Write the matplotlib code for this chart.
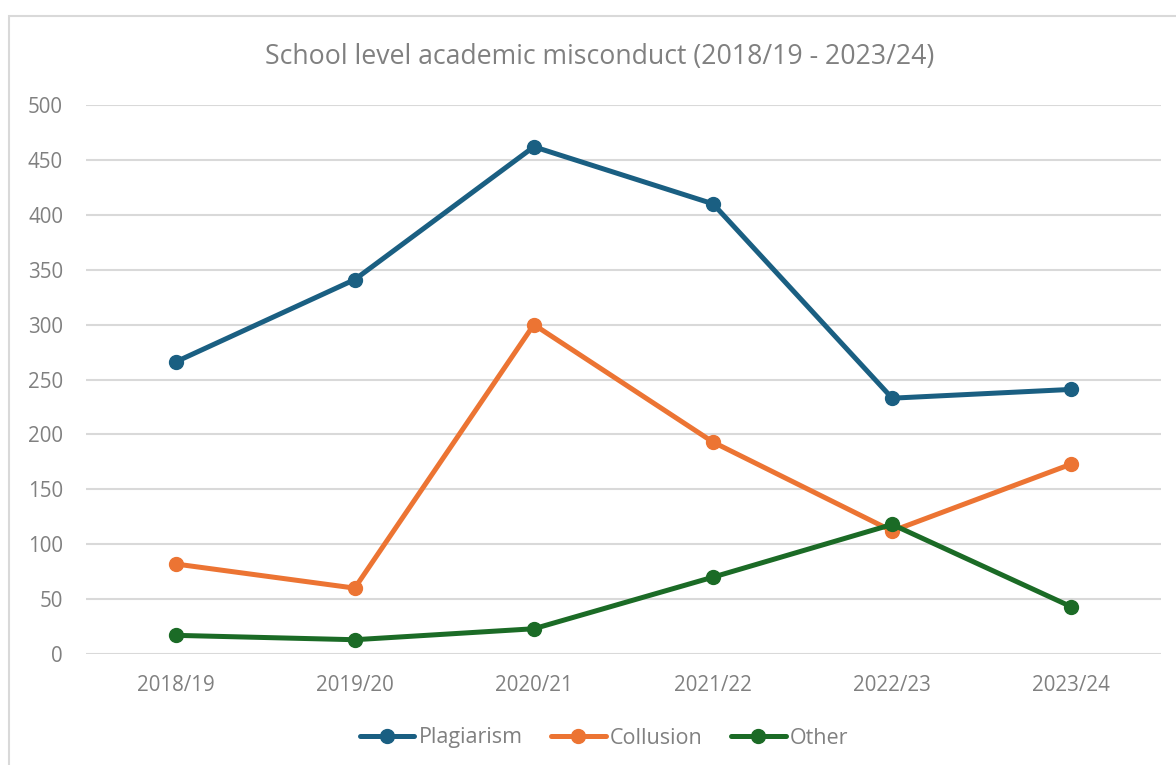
import matplotlib.pyplot as plt
from matplotlib.patches import Rectangle

years = ["2018/19", "2019/20", "2020/21", "2021/22", "2022/23", "2023/24"]
plagiarism = [266, 341, 462, 410, 233, 241]
collusion = [82, 60, 300, 193, 112, 173]
other = [17, 13, 23, 70, 118, 43]

grey = "#808080"
plt.rcParams['font.family'] = ['Open Sans', 'DejaVu Sans']

fig = plt.figure(figsize=(11.76, 7.65), dpi=100)
ax = fig.add_axes([0.0731, 0.1451, 0.9141, 0.7176])

# outer chart border (only left/top visible in the crop)
fig.patches.append(Rectangle((9/1176, -0.1), 1.2, 1 - 16/765 + 0.1, transform=fig.transFigure,
                             fill=False, edgecolor="#d9d9d9", linewidth=1.5))

x = range(len(years))
ax.plot(x, plagiarism, color="#1a5f82", lw=3.6, marker="o", ms=10, label="Plagiarism", solid_capstyle="round")
ax.plot(x, collusion, color="#ec7433", lw=3.6, marker="o", ms=10, label="Collusion", solid_capstyle="round")
ax.plot(x, other, color="#1b6b26", lw=3.6, marker="o", ms=10, label="Other", solid_capstyle="round")

ax.set_xlim(-0.5, 5.5)
ax.set_ylim(0, 500)
ax.set_yticks(range(0, 501, 50))
ax.set_xticks(list(x))
ax.set_xticklabels(years)
ax.grid(axis="y", color="#d9d9d9", lw=1.5)
ax.set_axisbelow(True)
for s in ax.spines.values():
    s.set_visible(False)
ax.tick_params(length=0, labelsize=14.8, colors=grey)
ax.tick_params(axis="y", pad=16.5)
ax.tick_params(axis="x", pad=15)

fig.text(600/1176, 1 - 57/765, "School level academic misconduct (2018/19 - 2023/24)",
         ha="center", va="center", fontsize=19.2, color=grey)

leg = fig.legend(loc="center", bbox_to_anchor=(604/1176, 1 - 738/765), ncol=3, frameon=False,
                 fontsize=15.5, handlelength=2.55, handletextpad=0.2, columnspacing=1.3,
                 borderaxespad=0, borderpad=0)
for t in leg.get_texts():
    t.set_color(grey)

fig.savefig("out.png", dpi=100)
